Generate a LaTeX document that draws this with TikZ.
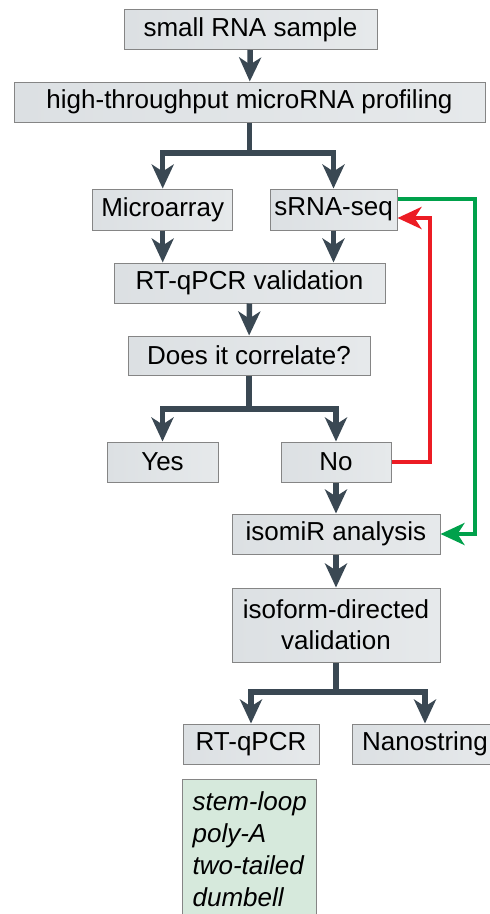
\documentclass[tikz,border=0pt]{standalone}
\usepackage{fontspec}
\setmainfont{Liberation Sans}
\usetikzlibrary{arrows.meta, positioning}

\definecolor{flowgray}{HTML}{3A4853}
\definecolor{loopred}{HTML}{EC1C24}
\definecolor{loopgreen}{HTML}{00A14B}
\definecolor{notegreen}{HTML}{D6E9DC}
\definecolor{edgegray}{HTML}{858585}
\definecolor{boxleft}{HTML}{DCE0E3}
\definecolor{boxmid}{HTML}{F7F8F9}
\definecolor{boxright}{HTML}{E6E9EB}

\begin{document}
\begin{tikzpicture}
    [
        x=1pt, y=-1pt,
        box/.style={rectangle, draw=edgegray, line width=1pt, left color=boxleft, middle color=boxmid, right color=boxright, minimum height=40pt, inner sep=0pt, align=center, font=\fontsize{26}{31}\selectfont},
        note/.style={rectangle, draw=edgegray, line width=1pt, fill=notegreen, align=left, inner sep=0pt, font=\fontsize{26}{32}\selectfont\itshape},
        flow/.style={draw=flowgray, line width=5.5pt, -{Stealth[length=24pt, width=22pt, inset=7pt]}},
        redo/.style={draw=loopred, line width=4.5pt, -{Stealth[length=24pt, width=22pt, inset=7pt]}},
        skip/.style={draw=loopgreen, line width=4.5pt, -{Stealth[length=24pt, width=22pt, inset=7pt]}},
    ]
    \useasboundingbox (0,0) rectangle (490,914);

    % boxes
    \node[box, minimum width=253pt] (sample) at (250.5,29.5) {small RNA sample};
    \node[box, minimum width=471pt] (profiling) at (249.5,102) {high-throughput microRNA profiling};
    \node[box, minimum width=140pt, minimum height=41pt] (microarray) at (162.7,209.5) {Microarray};
    \node[box, minimum width=127pt, minimum height=41pt] (srna seq) at (333.5,209.5) {sRNA-seq};
    \node[box, minimum width=271pt] (rt validation) at (249.5,283) {RT-qPCR validation};
    \node[box, minimum width=242pt, minimum height=39pt] (correlate) at (249,355.5) {Does it correlate?};
    \node[box, minimum width=111pt] (yes) at (162.5,462) {Yes};
    \node[box, minimum width=110pt] (no) at (336,462) {No};
    \node[box, minimum width=208pt] (isomir) at (336,534) {isomiR analysis};
    \node[box, minimum width=208pt, minimum height=74pt] (isoform) at (336,625) {isoform-directed\\validation};
    \node[box, minimum width=136pt] (rt qpcr) at (251,744) {RT-qPCR};
    \node[box, minimum width=145pt] (nanostring) at (425,744) {Nanostring};
    \node[note, minimum width=134pt, minimum height=141pt] (methods) at (249.7,849.5)
        {stem-loop\\poly-A\\two-tailed\\dumbell};

    % forks
    \coordinate (split top) at (249.5,153);
    \coordinate (split answer) at (249,409);
    \coordinate (split method) at (336,692);

    % main flow
    \draw[flow] (sample) -- (profiling);
    \draw[flow] (profiling) -- (split top) -| (microarray);
    \draw[flow] (split top) -| (srna seq);
    \draw[flow] (microarray) -- (microarray |- rt validation.north);
    \draw[flow] (srna seq) -- (srna seq |- rt validation.north);
    \draw[flow] (rt validation) -- (correlate);
    \draw[flow] (correlate) -- (split answer) -| (yes);
    \draw[flow] (split answer) -| (no);
    \draw[flow] (no) -- (isomir);
    \draw[flow] (isomir) -- (isoform);
    \draw[flow] (isoform) -- (split method) -| (rt qpcr);
    \draw[flow] (split method) -| (nanostring);

    % feedback loops
    \coordinate (redo turn) at (430,218);
    \coordinate (skip turn) at (475,199);
    \draw[redo] (no.east) -| (redo turn) -- (srna seq.east |- redo turn);
    \draw[skip] (srna seq.east |- skip turn) -- (skip turn) |- (isomir.east);
\end{tikzpicture}
\end{document}
